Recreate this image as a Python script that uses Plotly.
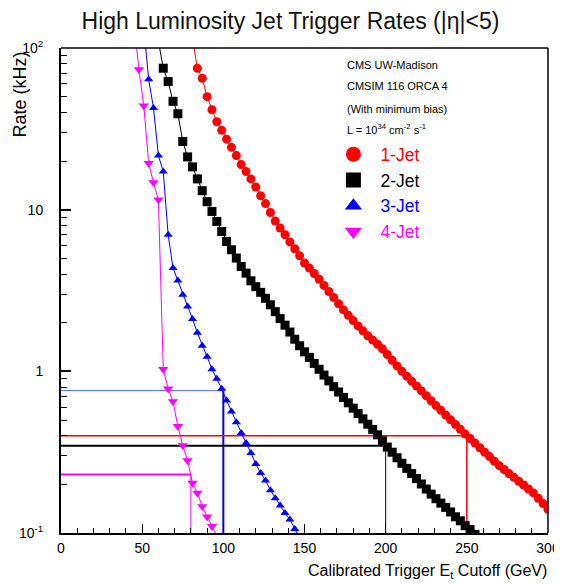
import plotly.graph_objects as go

# ---------------- data ----------------
et_1jet = [81, 84, 87, 90, 93, 96, 99, 102, 105, 108, 111, 114, 117, 120, 123, 126, 129, 132, 135, 138,
           141, 144, 147, 150, 153, 156, 159, 162, 165, 168, 171, 174, 177, 180, 183, 186, 189, 192, 195, 198,
           201, 204, 207, 210, 213, 216, 219, 222, 225, 228, 231, 234, 237, 240, 243, 246, 249, 252, 255, 258,
           261, 264, 267, 270, 273, 276, 279, 282, 285, 288, 291, 294, 297, 300]
rate_1jet = [115, 75, 65, 50, 41.5, 35, 31, 27.3, 24.3, 21.6, 19.0, 17.2, 15.5, 13.8, 12.2, 10.9, 9.6, 8.5, 7.7, 7.0,
             6.32, 5.73, 5.18, 4.68, 4.35, 4.03, 3.71, 3.40, 3.12, 2.86, 2.62, 2.40, 2.22, 2.06, 1.91, 1.78, 1.66, 1.56, 1.47, 1.38,
             1.27, 1.17, 1.08, 1.00, 0.933, 0.869, 0.811, 0.757, 0.706, 0.658, 0.614, 0.574, 0.536, 0.501, 0.469, 0.438, 0.409, 0.384, 0.360, 0.337,
             0.316, 0.297, 0.278, 0.261, 0.247, 0.233, 0.221, 0.209, 0.198, 0.187, 0.177, 0.164, 0.152, 0.140]

et_2jet = [60, 63, 66, 69, 72, 75, 78, 81, 84, 87, 90, 93, 96, 99, 102, 105, 108, 111, 114, 117,
           120, 123, 126, 129, 132, 135, 138, 141, 144, 147, 150, 153, 156, 159, 162, 165, 168, 171, 174, 177,
           180, 183, 186, 189, 192, 195, 198, 201, 204, 207, 210, 213, 216, 219, 222, 225, 228, 231, 234, 237,
           240, 243, 246, 249, 252, 255]
rate_2jet = [110, 75, 62, 46.8, 39.2, 26.4, 21.2, 18.4, 15.5, 13.1, 11.2, 9.75, 8.46, 7.33, 6.36, 5.65, 5.02, 4.45, 4.05, 3.63,
             3.34, 3.08, 2.83, 2.58, 2.34, 2.12, 1.93, 1.75, 1.58, 1.44, 1.32, 1.22, 1.12, 1.03, 0.948, 0.873, 0.804, 0.745, 0.690, 0.639,
             0.592, 0.548, 0.508, 0.471, 0.437, 0.405, 0.372, 0.340, 0.316, 0.292, 0.270, 0.251, 0.233, 0.217, 0.201, 0.187, 0.174, 0.163, 0.153, 0.144,
             0.135, 0.126, 0.119, 0.111, 0.105, 0.098]

et_3jet = [51, 54, 57, 60, 63, 66, 69, 72, 75, 78, 81, 84, 87, 90, 93, 96, 99, 102, 105, 108,
           111, 114, 117, 120, 123, 126, 129, 132, 135, 138, 141, 144, 147]
rate_3jet = [134, 64, 42.5, 21.6, 17.2, 7.0, 4.36, 3.65, 2.98, 2.52, 2.11, 1.73, 1.44, 1.23, 1.03, 0.90, 0.78, 0.66, 0.565, 0.485,
             0.415, 0.36, 0.313, 0.267, 0.235, 0.211, 0.184, 0.164, 0.148, 0.133, 0.121, 0.106, 0.093]

et_4jet = [45, 48, 51, 54, 57, 60, 63, 66, 69, 72, 75, 78, 81, 84, 87, 90, 93, 96]
rate_4jet = [142, 73.5, 44, 19.4, 14.7, 11.5, 1.03, 0.78, 0.65, 0.457, 0.348, 0.281, 0.204, 0.177, 0.146, 0.126, 0.11, 0.096]

# trigger cut-off guide lines (Et threshold, rate at threshold)
cut_et = [100, 80, 200, 250]
cut_rate = [0.76, 0.23, 0.347, 0.40]
cut_colors = ["#5a6cff", "#ff00ff", "#000000", "#ff0000"]
cut_hwidth = [1, 2, 2, 1.5]
cut_vcolors = ["#0000ff", "#ff00ff", "#000000", "#ff0000"]
cut_vwidth = [2, 1, 1, 1.5]

series_names = ["1-Jet", "2-Jet", "3-Jet", "4-Jet"]
series_colors = ["#ff0000", "#000000", "#0000ff", "#ff00ff"]
series_symbols = ["circle", "square", "triangle-up", "triangle-down"]
series_sizes = [9, 9, 8, 9]

x_range = [0, 300]
y_min, y_max = 0.1, 100

y_tickvals = [0.1, 1, 10, 100]
y_ticktext = ["10<sup>-1</sup>", "1", "10", "10<sup>2</sup>"]
y_minor_vals = [m * d for d in (0.1, 1, 10) for m in range(2, 10)]

info_lines = ["CMS UW-Madison", "CMSIM 116 ORCA 4", "(With minimum bias)",
              "L = 10<sup>34</sup> cm<sup>-2</sup> s<sup>-1</sup>"]
info_y = [0.965, 0.921, 0.874, 0.833]

FONT = "Liberation Sans, Arial, Helvetica, sans-serif"

# the page body adds an 8 px margin, so the figure is made 8 px smaller
W, H = 554, 576

fig = go.Figure()

# guide lines
for cx, cr, hc, hw, vc, vw in zip(cut_et, cut_rate, cut_colors, cut_hwidth, cut_vcolors, cut_vwidth):
    fig.add_trace(go.Scatter(x=[x_range[0], cx], y=[cr, cr], mode="lines",
                             line=dict(color=hc, width=hw), showlegend=False, hoverinfo="skip"))
    fig.add_trace(go.Scatter(x=[cx, cx], y=[cr, y_min], mode="lines",
                             line=dict(color=vc, width=vw), showlegend=False, hoverinfo="skip"))

# data series
all_x = [et_1jet, et_2jet, et_3jet, et_4jet]
all_y = [rate_1jet, rate_2jet, rate_3jet, rate_4jet]
for xs, ys, nm, col, sym, sz in zip(all_x, all_y, series_names, series_colors, series_symbols, series_sizes):
    fig.add_trace(go.Scatter(x=xs, y=ys, mode="lines+markers", name=nm,
                             line=dict(color=col, width=1),
                             marker=dict(symbol=sym, size=sz, color=col, line=dict(width=0)),
                             showlegend=False))

# legend-only entries (bigger symbols)
for nm, col, sym in zip(series_names, series_colors, series_symbols):
    fig.add_trace(go.Scatter(x=[None], y=[None], mode="markers",
                             name=f'<span style="color:{col}">{nm}</span>',
                             marker=dict(symbol=sym, size=15, color=col, line=dict(width=0))))

annotations = []
for txt, yy in zip(info_lines, info_y):
    annotations.append(dict(text=txt, x=0.583, y=yy, xref="paper", yref="paper",
                            xanchor="left", yanchor="middle", showarrow=False,
                            font=dict(family=FONT, size=11, color="black")))

annotations.append(dict(text="Rate (kHz)", textangle=-90, x=-0.084, y=0.997,
                        xref="paper", yref="paper", xanchor="center", yanchor="top",
                        showarrow=False, font=dict(family=FONT, size=18, color="black")))
annotations.append(dict(text="Calibrated Trigger E<sub>t</sub> Cutoff (GeV)", x=1.002, y=-0.079,
                        xref="paper", yref="paper", xanchor="right", yanchor="middle",
                        showarrow=False, font=dict(family=FONT, size=16, color="black")))

# frame top / right
shapes = [
    dict(type="line", xref="paper", yref="paper", x0=0, x1=1, y0=1, y1=1, line=dict(color="black", width=1.5)),
    dict(type="line", xref="paper", yref="paper", x0=1, x1=1, y0=0, y1=1, line=dict(color="black", width=1.5)),
]

fig.update_layout(
    width=W, height=H,
    margin=dict(l=53, r=14, t=40, b=51, autoexpand=False),
    paper_bgcolor="white", plot_bgcolor="white",
    font=dict(family=FONT, size=14, color="black"),
    title=dict(text="High Luminosity Jet Trigger Rates (|η|<5)", x=282.5 / W, xref="container",
               xanchor="center", y=1 - 12.5 / H, yref="container", yanchor="middle",
               font=dict(family=FONT, size=23, color="#111111")),
    showlegend=True,
    legend=dict(x=0.545, y=0.818, xanchor="left", yanchor="top", bgcolor="rgba(0,0,0,0)",
                borderwidth=0, itemwidth=44, tracegroupgap=0,
                font=dict(family=FONT, size=17.5)),
    annotations=annotations,
    shapes=shapes,
)

fig.update_xaxes(range=x_range, showgrid=False, zeroline=False, automargin=False,
                 showline=True, linecolor="black", linewidth=2,
                 ticks="inside", ticklen=9, tickwidth=1, tickcolor="black",
                 tickvals=[0, 50, 100, 150, 200, 250, 300],
                 ticktext=["0", "50", "100", "150", "200", "250", "300"],
                 tickfont=dict(family=FONT, size=14), ticklabelstandoff=1,
                 minor=dict(dtick=10, ticks="inside", ticklen=5, tickwidth=1, tickcolor="black", showgrid=False))

fig.update_yaxes(type="log", range=[-1, 2], showgrid=False, zeroline=False, automargin=False,
                 showline=True, linecolor="black", linewidth=2,
                 ticks="inside", ticklen=10, tickwidth=1.5, tickcolor="black",
                 tickmode="array", tickvals=y_tickvals, ticktext=y_ticktext,
                 tickfont=dict(family=FONT, size=14), ticklabelstandoff=13,
                 minor=dict(tickmode="array", tickvals=y_minor_vals, ticks="inside", ticklen=6,
                            tickwidth=1, tickcolor="black", showgrid=False))

fig.write_html("out.html")
